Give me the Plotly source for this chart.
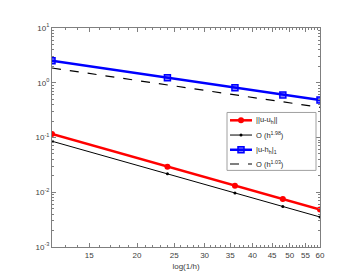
import numpy as np
import plotly.graph_objects as go

N = [12, 24, 36, 48, 60]
err_l2 = [0.1156, 0.0293, 0.0131, 0.00752, 0.00484]
ref_l2 = [0.0855, 0.0217, 0.00970, 0.00550, 0.00353]
err_h1 = [2.53, 1.23, 0.81, 0.60, 0.484]
ref_h1 = [1.86, 0.905, 0.596, 0.442, 0.356]

names = ["||u-u<sub>h</sub>||", "O (h<sup>1.98</sup>)", "|u-h<sub>h</sub>|<sub>1</sub>", "O (h<sup>1.03</sup>)"]

xticks = [15, 20, 25, 30, 35, 40, 45, 50, 55, 60]
yticks = [1e-3, 1e-2, 1e-1, 1e0, 1e1]
yticktext = ["10<sup>-3</sup>", "10<sup>-2</sup>", "10<sup>-1</sup>", "10<sup>0</sup>", "10<sup>1</sup>"]

W, H = 344, 273
ML, MR, MT, MB = 44, 32, 20, 30
PW, PH = W - ML - MR, H - MT - MB


def px(x):
    return (x - ML) / PW


def py(y):
    return 1 - (y - MT) / PH


styles = [
    dict(line=dict(color="red", width=2.5), marker=dict(symbol="circle", size=6, color="red")),
    dict(line=dict(color="black", width=1), marker=dict(symbol="circle", size=3, color="black")),
    dict(line=dict(color="blue", width=2.5),
         marker=dict(symbol="square", size=6, color="rgba(0,0,255,0.5)", line=dict(color="blue", width=1.5))),
    dict(line=dict(color="black", width=1.2, dash="dash")),
]
series = [err_l2, ref_l2, err_h1, ref_h1]

fig = go.Figure()
for nm, ys, st in zip(names, series, styles):
    mode = "lines+markers" if "marker" in st else "lines"
    fig.add_trace(go.Scatter(x=N, y=ys, mode=mode, name=nm, showlegend=False, **st))

# manual legend (compact, like the reference)
shapes = [dict(type="rect", xref="paper", yref="paper", x0=px(219), x1=px(308), y0=py(165), y1=py(106),
               line=dict(color="#a0a0a0", width=1), fillcolor="white", layer="above")]
annotations = []
rows = [114, 129, 144, 158.5]
lx0, lx1, mx, tx = 222, 244, 233, 246
for i, (nm, yy) in enumerate(zip(names, rows)):
    st = styles[i]
    ln = st["line"]
    shapes.append(dict(type="line", xref="paper", yref="paper", x0=px(lx0), x1=px(lx1), y0=py(yy), y1=py(yy),
                       line=dict(color=ln["color"], width=ln["width"], dash=ln.get("dash", "solid")), layer="above"))
    if "marker" in st:
        mk = st["marker"]
        r = mk["size"] / 2
        shp = "circle" if mk["symbol"] == "circle" else "rect"
        if shp == "circle":
            shapes.append(dict(type="circle", xref="paper", yref="paper", xsizemode="pixel", ysizemode="pixel",
                               xanchor=px(mx), yanchor=py(yy), x0=-r, x1=r, y0=-r, y1=r,
                               fillcolor=mk["color"], line=dict(color=mk["color"], width=0), layer="above"))
        else:
            shapes.append(dict(type="rect", xref="paper", yref="paper", xsizemode="pixel", ysizemode="pixel",
                               xanchor=px(mx), yanchor=py(yy), x0=-r, x1=r, y0=-r, y1=r,
                               fillcolor=mk["color"], line=dict(color="blue", width=1.5), layer="above"))
    annotations.append(dict(x=px(tx), y=py(yy), xref="paper", yref="paper", text=nm, showarrow=False,
                            xanchor="left", yanchor="middle", font=dict(size=7.5, color="#262626")))

minor_x = [v for v in range(12, 61) if v not in xticks]
minor_y = [m * 10.0 ** e for e in range(-3, 1) for m in range(2, 10)]

axcol = "#7f7f7f"
fig.update_layout(
    width=W, height=H,
    margin=dict(l=ML, r=MR, t=MT, b=MB),
    paper_bgcolor="white", plot_bgcolor="white",
    font=dict(family="Liberation Sans, Arial", size=8, color="#404040"),
    showlegend=False,
    shapes=shapes, annotations=annotations,
    xaxis=dict(type="log", range=[np.log10(12), np.log10(60)],
               tickmode="array", tickvals=xticks, ticktext=[str(v) for v in xticks],
               ticks="inside", ticklen=4, tickcolor=axcol,
               showline=True, linecolor=axcol, linewidth=1, mirror="ticks",
               showgrid=False, zeroline=False,
               minor=dict(tickmode="array", tickvals=minor_x, ticks="inside", ticklen=2, tickcolor=axcol),
               title=dict(text="log(1/h)", font=dict(size=8, color="#404040"), standoff=4)),
    yaxis=dict(type="log", range=[-3, 1],
               tickmode="array", tickvals=yticks, ticktext=yticktext,
               ticks="inside", ticklen=4, tickcolor=axcol,
               showline=True, linecolor=axcol, linewidth=1, mirror="ticks",
               showgrid=False, zeroline=False,
               minor=dict(tickmode="array", tickvals=minor_y, ticks="inside", ticklen=2, tickcolor=axcol)),
)

fig.write_html("out.html")
